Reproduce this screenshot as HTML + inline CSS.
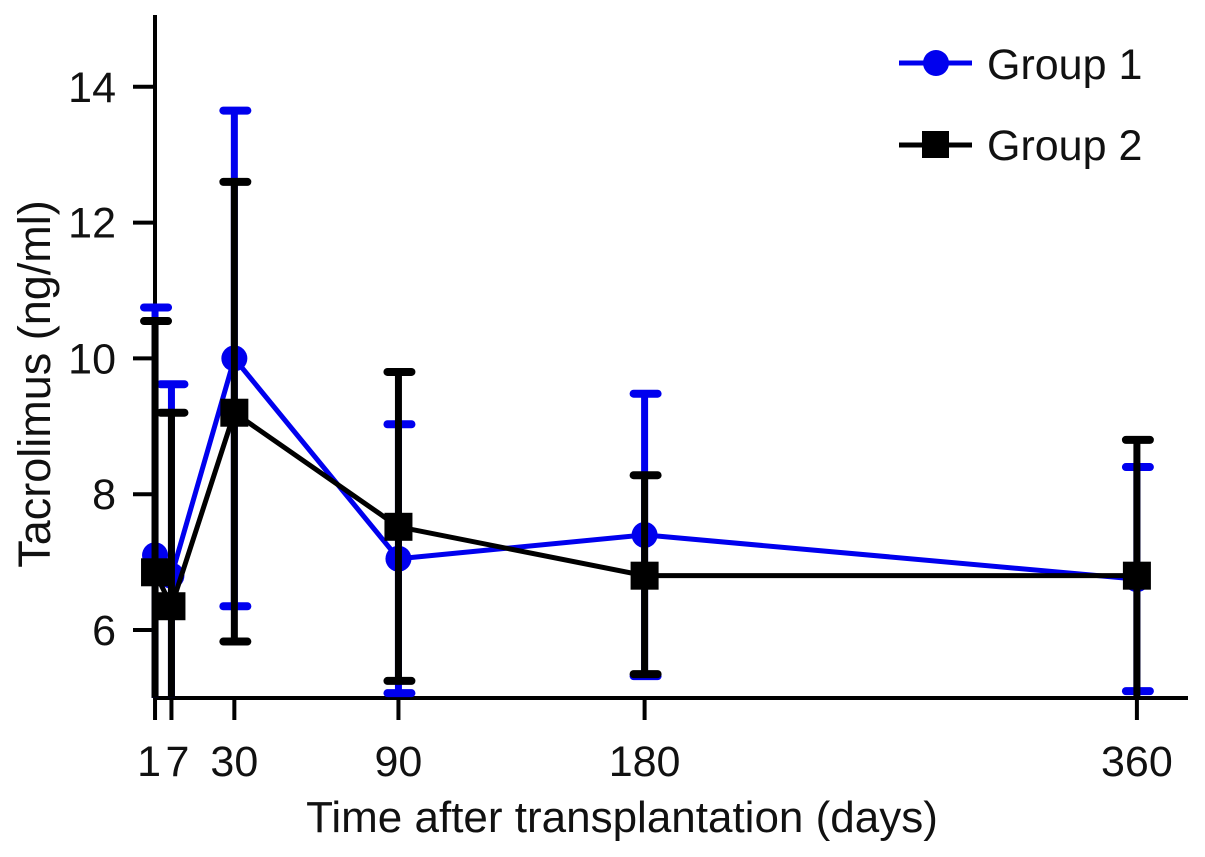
<!DOCTYPE html>
<html><head><meta charset="utf-8"><style>
html,body{margin:0;padding:0;background:#fff;width:1205px;height:857px;overflow:hidden}
svg text{font-family:"Liberation Sans",Arial,sans-serif;fill:#111}
</style></head><body>
<svg id="chart" width="1205" height="857" viewBox="0 0 1205 857" xmlns="http://www.w3.org/2000/svg">
<g id="plot"></g>
<g id="legend">
  <g>
    <line x1="899" y1="63" x2="972" y2="63" stroke="#0000ee" stroke-width="5"/>
    <circle cx="936" cy="63" r="13" fill="#0000ee"/>
    <text x="987" y="79" font-size="43">Group 1</text>
  </g>
  <g>
    <line x1="899" y1="145" x2="972" y2="145" stroke="#000" stroke-width="5"/>
    <rect x="922" y="131" width="27" height="27" fill="#000"/>
    <text x="987" y="160" font-size="43">Group 2</text>
  </g>
</g>
<text x="622" y="832" font-size="44" text-anchor="middle">Time after transplantation (days)</text>
<text transform="translate(50,384) rotate(-90)" font-size="45" text-anchor="middle">Tacrolimus (ng/ml)</text>
</svg>
<script>
const days = [1, 7, 30, 90, 180, 360];
const xTickLabels = ["1", "7", "30", "90", "180", "360"];
const yTicks = [6, 8, 10, 12, 14];
const g1Mean = [7.1, 6.8, 10.0, 7.05, 7.4, 6.75];
const g1Upper = [10.75, 9.62, 13.65, 9.03, 9.48, 8.4];
const g1Lower = [3.5, 4.0, 6.35, 5.07, 5.32, 5.1];
const g2Mean = [6.85, 6.35, 9.2, 7.52, 6.8, 6.8];
const g2Upper = [10.55, 9.2, 12.6, 9.8, 8.28, 8.8];
const g2Lower = [3.2, 3.5, 5.83, 5.25, 5.35, 4.8];

const NS = "http://www.w3.org/2000/svg";
const plot = document.getElementById("plot");
const xs = d => 152.3 + 2.735 * d;
const ys = v => 630 - (v - 6) * 67.9;
const yMin = 5;
function mk(tag, attrs, parent) {
  const e = document.createElementNS(NS, tag);
  for (const k in attrs) e.setAttribute(k, attrs[k]);
  (parent || plot).appendChild(e);
  return e;
}
let ax = mk("line", {x1: 155, y1: 15, x2: 155, y2: 698, stroke: "#000", "stroke-width": 4});


ax = mk("line", {x1: 153, y1: 698, x2: 1188, y2: 698, stroke: "#000", "stroke-width": 4});


yTicks.forEach(v => {
  const t = mk("line", {x1: 133, y1: ys(v), x2: 155, y2: ys(v), stroke: "#000", "stroke-width": 4});
  
  
  const l = mk("text", {x: 116, y: ys(v) + 15, "font-size": 43, "text-anchor": "end"});
  l.textContent = v;
  
  
});
days.forEach((d, i) => {
  const t = mk("line", {x1: xs(d), y1: 698, x2: xs(d), y2: 720, stroke: "#000", "stroke-width": 4});
  
  
  let off = 0;
  if (i === 0) off = -6; if (i === 1) off = 6;
  const l = mk("text", {x: xs(d) + off, y: 776, "font-size": 43, "text-anchor": "middle"});
  l.textContent = xTickLabels[i];
  
  
});
function clip(v) { return Math.max(v, yMin); }
function series(mean, up, lo, color, marker, name) {
  const g = mk("g", {});
  
  
  days.forEach((d, i) => {
    const x = xs(d);
    const b = mk("line", {x1: x, y1: ys(up[i]), x2: x, y2: ys(clip(lo[i])), stroke: color, "stroke-width": 7}, g);
    
    
    const c1 = mk("line", {x1: x - 11, y1: ys(up[i]), x2: x + 13, y2: ys(up[i]), stroke: color, "stroke-width": 8, "stroke-linecap": "round"}, g);
    
    
    if (lo[i] >= yMin) {
      const c2 = mk("line", {x1: x - 11, y1: ys(lo[i]), x2: x + 13, y2: ys(lo[i]), stroke: color, "stroke-width": 8, "stroke-linecap": "round"}, g);
      
      
    }
  });
  const pts = days.map((d, i) => xs(d) + "," + ys(mean[i])).join(" ");
  const pl = mk("polyline", {points: pts, fill: "none", stroke: color, "stroke-width": 5}, g);
  
  
  days.forEach((d, i) => {
    let m;
    if (marker === "circle") m = mk("circle", {cx: xs(d), cy: ys(mean[i]), r: 13, fill: color}, g);
    else m = mk("rect", {x: xs(d) - 14, y: ys(mean[i]) - 14, width: 28, height: 28, fill: color}, g);
    
    
  });
}
series(g1Mean, g1Upper, g1Lower, "#0000ee", "circle", "group-1");
series(g2Mean, g2Upper, g2Lower, "#000", "square", "group-2");
</script>
</body></html>
